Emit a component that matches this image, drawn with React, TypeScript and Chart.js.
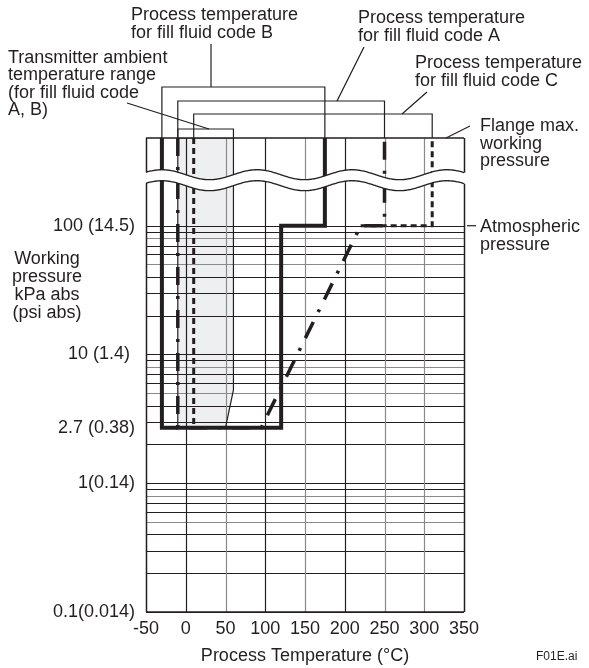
import React, { useEffect, useRef } from 'react';
import { Chart, registerables } from 'chart.js';

Chart.register(...registerables);

// ---------- data ----------
const TOP_P = 480; // top of broken axis (flange max. working pressure region)
const xTicks = [-50, 0, 50, 100, 150, 200, 250, 300, 350];
const xGridGray = [false, false, true, false, true, false, true, true, false];
const yTickValues = [100, 10, 2.7, 1, 0.1];
const yTickLabels = ['100 (14.5)', '10 (1.4) ', '2.7 (0.38)', '1(0.14)', '0.1(0.014)'];
const decades = [0.1, 1, 10];
const minorSteps = [1, 2, 3, 4, 5, 6, 7, 8, 9];
const minorGray = [false, false, false, false, true, false, false, true, false];

// Process temperature for fill fluid code B (thick solid)
const codeBTemps = [-30, -30, 120, 120, 175, 175];
const codeBPress = [TOP_P, 2.7, 2.7, 100, 100, TOP_P];
// Process temperature for fill fluid code A (dash-dot)
const codeATemps = [-10, -10, 95, 220, 250, 250];
const codeAPress = [TOP_P, 2.7, 2.7, 100, 100, TOP_P];
// Process temperature for fill fluid code C (dashed)
const codeCTemps = [10, 10, 100, 220, 310, 310];
const codeCPress: (number | null)[] = [TOP_P, 2.7, null, 100, 100, TOP_P];
// Transmitter ambient temperature range (for fill fluid code A, B)
const ambientTemps = [-10, 60, 60, 50, -10, -10];
const ambientPress = [TOP_P, TOP_P, 5.3, 2.7, 2.7, TOP_P];

const INK = '#231f20';
const GRAY = '#8a8a8a';
const FONT = '"Liberation Sans", Arial, sans-serif';

const pts = (xs: number[], ys: (number | null)[]) => xs.map((x, i) => ({ x, y: ys[i] }));

const gridPlugin = {
  id: 'gridPlugin',
  beforeDatasetsDraw(chart: any) {
    const { ctx, chartArea: a, scales } = chart;
    const xs = scales.x, ys = scales.y;
    ctx.save();
    ctx.lineWidth = 1.2;
    // horizontal log grid up to 100
    decades.forEach((d) => {
      minorSteps.forEach((k, i) => {
        const y = Math.round(ys.getPixelForValue(d * k)) + 0.5;
        ctx.strokeStyle = minorGray[i] ? GRAY : INK;
        ctx.beginPath();
        ctx.moveTo(a.left, y);
        ctx.lineTo(a.right, y);
        ctx.stroke();
      });
    });
    const y100 = Math.round(ys.getPixelForValue(100)) + 0.5;
    ctx.strokeStyle = INK;
    ctx.beginPath();
    ctx.moveTo(a.left, y100);
    ctx.lineTo(a.right, y100);
    ctx.stroke();
    // vertical grid
    xTicks.forEach((t, i) => {
      const x = Math.round(xs.getPixelForValue(t)) + 0.5;
      ctx.strokeStyle = xGridGray[i] ? GRAY : INK;
      ctx.lineWidth = i === 0 || i === xTicks.length - 1 ? 1.5 : 1.2;
      ctx.beginPath();
      ctx.moveTo(x, a.top);
      ctx.lineTo(x, a.bottom);
      ctx.stroke();
    });
    // top & bottom border
    ctx.strokeStyle = INK;
    ctx.lineWidth = 1.5;
    ctx.beginPath();
    ctx.moveTo(a.left, a.top);
    ctx.lineTo(a.right, a.top);
    ctx.moveTo(a.left, a.bottom);
    ctx.lineTo(a.right, a.bottom);
    ctx.stroke();
    ctx.restore();
  },
};

const breakPlugin = {
  id: 'breakPlugin',
  afterDatasetsDraw(chart: any) {
    const { ctx, chartArea: a, scales } = chart;
    const y100 = scales.y.getPixelForValue(100);
    const upperC = y100 - 51;
    const lowerC = y100 - 40;
    const amp = 5;
    const period = 95;
    const x0 = a.left + 16;
    const wave = (x: number, c: number) => c - amp * Math.cos((2 * Math.PI * (x - x0)) / period);
    ctx.save();
    ctx.fillStyle = '#ffffff';
    ctx.beginPath();
    for (let x = a.left - 2; x <= a.right + 2; x += 1) {
      const y = wave(x, upperC);
      if (x === a.left - 2) ctx.moveTo(x, y);
      else ctx.lineTo(x, y);
    }
    for (let x = a.right + 2; x >= a.left - 2; x -= 1) ctx.lineTo(x, wave(x, lowerC));
    ctx.closePath();
    ctx.fill();
    ctx.strokeStyle = INK;
    ctx.lineWidth = 1.3;
    [upperC, lowerC].forEach((c) => {
      ctx.beginPath();
      for (let x = a.left; x <= a.right; x += 1) {
        const y = wave(x, c);
        if (x === a.left) ctx.moveTo(x, y);
        else ctx.lineTo(x, y);
      }
      ctx.stroke();
    });
    ctx.restore();
  },
};

const annotationPlugin = {
  id: 'annotationPlugin',
  afterDraw(chart: any) {
    const { ctx, chartArea: a, scales } = chart;
    const xs = scales.x, ys = scales.y;
    const px = (t: number) => xs.getPixelForValue(t);
    ctx.save();
    ctx.strokeStyle = INK;
    ctx.fillStyle = INK;
    ctx.lineWidth = 1.2;
    const line = (x1: number, y1: number, x2: number, y2: number) => {
      ctx.beginPath();
      ctx.moveTo(x1, y1);
      ctx.lineTo(x2, y2);
      ctx.stroke();
    };
    const bracket = (temps: number[], y: number) => {
      const l = px(Math.min(...temps));
      const r = px(Math.max(...temps));
      ctx.beginPath();
      ctx.moveTo(l, a.top);
      ctx.lineTo(l, y);
      ctx.lineTo(r, y);
      ctx.lineTo(r, a.top);
      ctx.stroke();
    };
    bracket(codeBTemps, 87);
    bracket(codeATemps, 101);
    bracket(codeCTemps, 114);
    bracket(ambientTemps, 129);
    line(211, 87, 211, 44); // B stem
    line(337, 101, 364, 47); // A leader
    line(402, 114, 427, 92); // C leader
    line(209, 129, 127, 103); // ambient leader
    line(446, a.top, 470, 126); // flange leader
    const y100 = ys.getPixelForValue(100);
    line(a.right + 3, y100, a.right + 12, y100); // atmospheric leader

    ctx.font = `18px ${FONT}`;
    ctx.textAlign = 'left';
    ctx.textBaseline = 'alphabetic';
    const text = (lines: string[], x: number, y0: number, lh: number) =>
      lines.forEach((s, i) => ctx.fillText(s, x, y0 + i * lh));
    text(['Process temperature', 'for fill fluid code B'], 131, 20, 18);
    text(['Process temperature', 'for fill fluid code A'], 358, 23, 18);
    text(['Process temperature', 'for fill fluid code C'], 415, 68, 17.5);
    text(['Transmitter ambient', 'temperature range', '(for fill fluid code', 'A, B)'], 8, 62.5, 17.5);
    text(['Flange max.', 'working', 'pressure'], 480, 131, 17.5);
    text(['Atmospheric', 'pressure'], 480, 232, 17.5);

    ctx.textAlign = 'center';
    text(['Working', 'pressure', 'kPa abs', '(psi abs)'], 47, 264, 18);

    ctx.textAlign = 'right';
    yTickValues.forEach((v, i) => ctx.fillText(yTickLabels[i], 135, ys.getPixelForValue(v) + 5));

    ctx.textAlign = 'center';
    xTicks.forEach((t) => ctx.fillText(String(t), px(t), 634));
    ctx.fillText('Process Temperature (°C)', (a.left + a.right) / 2, 661);

    ctx.font = `12px ${FONT}`;
    ctx.textAlign = 'left';
    ctx.fillText('F01E.ai', 536, 660);
    ctx.restore();
  },
};

export default function App() {
  const ref = useRef<HTMLCanvasElement>(null);
  useEffect(() => {
    document.body.style.margin = '0';
    const canvas = ref.current;
    if (!canvas) return;
    const common = {
      showLine: true,
      pointRadius: 0,
      pointHoverRadius: 0,
      borderColor: INK,
      borderCapStyle: 'butt',
      borderJoinStyle: 'miter',
      tension: 0,
      spanGaps: false,
    };
    const chart = new Chart(canvas, {
      type: 'scatter',
      data: {
        datasets: [
          { ...common, label: 'Fill fluid code B', data: pts(codeBTemps, codeBPress), borderWidth: 4, fill: false },
          { ...common, label: 'Fill fluid code A', data: pts(codeATemps, codeAPress), borderWidth: 3.5, borderDash: [18, 11, 3, 11], fill: false },
          { ...common, label: 'Fill fluid code C', data: pts(codeCTemps, codeCPress), borderWidth: 3, borderDash: [6, 4], fill: false },
          {
            ...common,
            label: 'Transmitter ambient temperature range',
            data: pts(ambientTemps, ambientPress),
            borderWidth: 1.2,
            backgroundColor: '#eeeff1',
            fill: 'shape',
          },
        ],
      } as any,
      options: {
        responsive: false,
        animation: false,
        events: [],
        layout: { padding: { left: 146, right: 125, top: 138, bottom: 56 } },
        scales: {
          x: { type: 'linear', min: -50, max: 350, display: false },
          y: { type: 'logarithmic', min: 0.1, max: TOP_P, display: false },
        },
        plugins: {
          legend: { display: false },
          tooltip: { enabled: false },
          filler: { drawTime: 'beforeDraw' },
        },
      } as any,
      plugins: [gridPlugin, breakPlugin, annotationPlugin],
    });
    return () => chart.destroy();
  }, []);
  return <canvas ref={ref} width={589} height={668} style={{ display: 'block', width: 589, height: 668 }} />;
}
